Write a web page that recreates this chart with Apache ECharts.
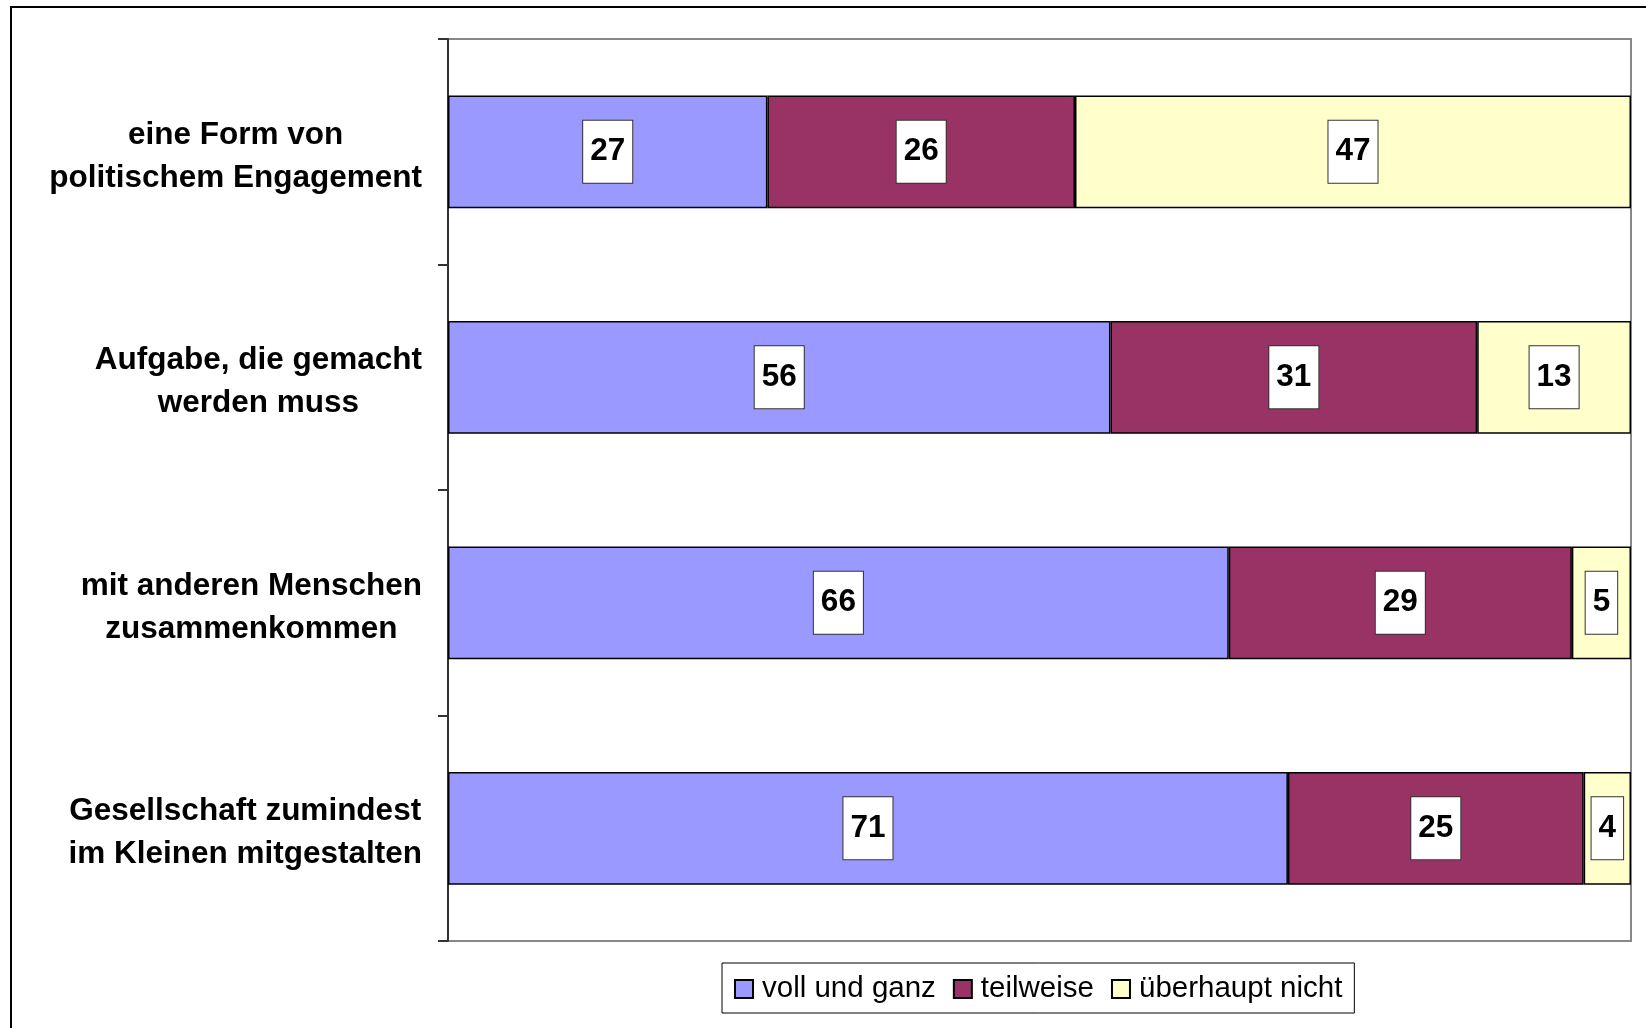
<!DOCTYPE html>
<html>
<head>
<meta charset="utf-8">
<script src="https://cdn.jsdelivr.net/npm/echarts@6/dist/echarts.min.js"></script>
<style>
    html, body { margin: 0; padding: 0; background: #fff; }
    #chart { width: 1646px; height: 1028px; }
</style>
</head>
<body>
<div id="chart"></div>
<script>
// categories, top to bottom
var categories = [
    'eine Form von\npolitischem Engagement',
    'Aufgabe, die gemacht\nwerden muss',
    'mit anderen Menschen\nzusammenkommen',
    'Gesellschaft zumindest\nim Kleinen mitgestalten'
]
var seriesNames = ['voll und ganz', 'teilweise', 'überhaupt nicht']
var vollUndGanz = [27, 56, 66, 71]
var teilweise = [26, 31, 29, 25]
var ueberhauptNicht = [47, 13, 5, 4]

var font = '"Liberation Sans", Arial, sans-serif'
var colors = ['#9999ff', '#993366', '#ffffcc']
var values = [vollUndGanz, teilweise, ueberhauptNicht]

let chart = echarts.init(document.getElementById('chart'))

let series = seriesNames.map(function (name, i) {
    return {
        name: name,
        type: 'bar',
        stack: 'total',
        barWidth: '50%',
        itemStyle: {
            color: colors[i],
            borderColor: '#000',
            borderWidth: 1.5
        },
        label: {
            show: true,
            position: 'inside',
            formatter: '{c}',
            color: '#000',
            fontFamily: font,
            fontWeight: 'bold',
            fontSize: 31.5,
            lineHeight: 32,
            backgroundColor: '#fff',
            borderColor: '#333',
            borderWidth: 1,
            padding: [18, 7, 12, 7]
        },
        emphasis: { disabled: true },
        data: values[i]
    }
})

chart.setOption({
    animation: false,
    textStyle: { fontFamily: font },
    grid: {
        left: 448,
        top: 39,
        right: 15,
        bottom: 87,
        show: true,
        borderColor: '#888',
        borderWidth: 2
    },
    legend: {
        data: seriesNames,
        left: 722,
        top: 963,
        orient: 'horizontal',
        icon: 'rect',
        itemWidth: 18,
        itemHeight: 18,
        itemGap: 17,
        padding: [9, 12, 7, 12],
        borderColor: '#000',
        borderWidth: 1,
        textStyle: {
            fontFamily: font,
            fontSize: 29.5,
            lineHeight: 34,
            color: '#000',
            padding: [0, 0, 0, 4]
        }
    },
    xAxis: {
        type: 'value',
        min: 0,
        max: 100,
        show: false,
        splitLine: { show: false }
    },
    yAxis: {
        type: 'category',
        inverse: true,
        data: categories,
        axisLine: { show: true, lineStyle: { color: '#333', width: 2 } },
        axisTick: { show: true, inside: false, length: 10, lineStyle: { color: '#333', width: 2 } },
        axisLabel: {
            align: 'right',
            margin: 26,
            padding: [10, 0, 0, 0],
            color: '#000',
            formatter: function (v) {
                return v.split('\n').map(function (l) { return '{c|' + l + '}' }).join('\n')
            },
            rich: {
                c: {
                    align: 'center',
                    fontFamily: font,
                    fontWeight: 'bold',
                    fontSize: 31.5,
                    lineHeight: 43,
                    color: '#000'
                }
            }
        }
    },
    graphic: [
        {
            type: 'rect',
            silent: true,
            z: -10,
            shape: { x: 11, y: 7, width: 1700, height: 1100 },
            style: { fill: 'none', stroke: '#000', lineWidth: 2 }
        }
    ],
    series: series
})
</script>
</body>
</html>
